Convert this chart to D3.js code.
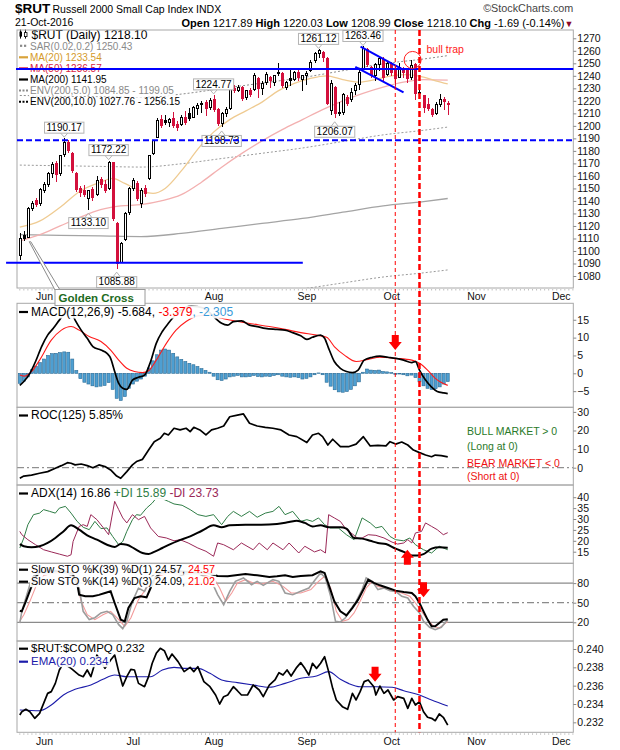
<!DOCTYPE html>
<html><head><meta charset="utf-8">
<script src="https://cdn.jsdelivr.net/npm/d3@7/dist/d3.min.js"></script>
<style>
body{margin:0;background:#fff;}
svg{display:block;font-family:"Liberation Sans",Arial,Helvetica,sans-serif;}
</style></head><body>
<svg id="chart" width="620" height="750"></svg>
<script>
// ================= DATA =================
const holidays = ["2016-05-30","2016-07-04","2016-09-05","2016-11-24"];
// daily candles, 23-May-2016 .. 21-Oct-2016 (trading days)
const opens  = [1096,1112,1111,1134,1140,1138,1148,1153,1162,1170,1162,1177,1187,1178,1162,1150,1148,1142,1149,1145,1157,1153,1150,1171,1122,1091,1109,1131,1150,1154,1138,1150,1158,1178,1191,1205,1204,1203,1206,1201,1201,1207,1210,1207,1214,1217,1219,1215,1221,1213,1202,1210,1214,1230,1228,1231,1223,1228,1229,1238,1230,1235,1239,1235,1242,1242,1231,1238,1237,1243,1237,1240,1244,1252,1258,1259,1254,1212,1231,1211,1211,1223,1221,1228,1233,1246,1261,1247,1240,1249,1253,1241,1250,1245,1239,1246,1244,1239,1249,1227,1224,1217,1213,1210,1217,1221,1217.89];
const highs  = [1114,1116,1135,1140,1142,1150,1155,1163,1171,1172,1177,1190.17,1189,1179,1163,1152,1153,1149,1151,1160,1159,1157,1172.22,1171,1123,1107,1131,1151,1158,1156,1150,1153,1177,1189,1206,1209,1209,1206,1211,1204,1209,1212,1214,1216,1218,1220,1221,1222,1224.77,1214,1211,1215,1231,1233,1233,1232,1229,1230,1242,1239,1236,1243,1240,1241,1250,1243,1236,1246,1244,1246,1241,1244,1253,1259,1261.12,1260,1255,1237,1232,1219,1226,1225,1230,1234,1245,1263.46,1262,1248,1250,1255,1255,1252,1251,1248,1250,1247,1246,1253,1250,1230,1225,1222,1214,1219,1225.5,1223,1220.03];
const lows   = [1093,1108,1110,1132,1135,1136,1146,1151,1158,1155,1160,1175,1178,1162,1147,1143,1143,1133.10,1140,1144,1150,1146,1149,1124,1085.88,1090,1108,1129,1148,1140,1134,1143,1157,1177,1190,1198,1201,1199,1198,1196,1200,1201,1204,1206,1209,1210,1208,1213,1211,1200,1198.73,1207,1213,1226,1227,1220,1221,1223,1228,1222,1225,1233,1230,1232,1240,1230,1229,1232,1236,1236,1228,1233,1243,1250,1254,1251,1217,1209,1206.07,1208,1209,1216,1219,1225,1229,1245,1247,1238,1236,1244,1236,1240,1240,1232,1238,1238,1234,1237,1221,1222,1210,1212,1207,1209,1215,1213,1208.99];
const closes = [1110,1110,1134,1138,1137,1149,1153,1162,1169,1161,1176,1187,1180,1164,1149,1147,1145,1148,1143,1156,1153,1148,1171,1126,1090,1106,1130,1150,1156,1142,1148,1146,1176,1188,1204,1200,1203,1205,1200,1199,1207,1203,1206,1215,1216,1218,1214,1220,1213,1202,1210,1213,1230,1228,1231,1222,1228,1225,1240,1230,1234,1241,1236,1240,1243,1232,1235,1236,1243,1239,1240,1242,1251,1258,1260,1255,1218,1234,1210,1210,1225,1218,1227,1232,1243,1262,1249,1240,1249,1254,1239,1250,1243,1238,1247,1243,1238,1248,1226,1226,1215,1214,1209,1217,1221,1219.79,1218.10];
// price labels (day index of the high / low)
const highLabelDays = [11,22,48,74,85];
const lowLabelDays  = [17,24,50,78];
// overlays: [dayIndex, value]
const ma20  = [[0,1119],[5,1124],[10,1135],[15,1148],[20,1155],[23,1158],[26,1154],[30,1148],[33,1146],[36,1150],[40,1164],[44,1181],[45,1185],[48,1195],[52,1205],[56,1212],[60,1219],[64,1228],[68,1234],[72,1238],[76,1240],[80,1237],[84,1235],[88,1237],[92,1240],[96,1241],[100,1239],[103,1236],[106,1233.54]];
const ma50  = [[0,1108],[5,1113],[10,1120],[15,1127],[20,1133],[25,1136],[30,1137],[35,1140],[40,1145],[45,1155],[50,1167],[55,1178],[60,1188],[65,1197],[70,1205],[75,1213],[80,1220],[85,1226],[90,1231],[95,1235],[100,1237],[106,1236.57]];
const ma200 = [[0,1113],[10,1112.5],[20,1112],[30,1111.5],[40,1114],[50,1118],[60,1122],[70,1126],[80,1131],[90,1136],[100,1139.5],[106,1141.95]];
const priceTicks = d3.range(1080, 1271, 10);
const priceLegend = ["$RUT (Daily) 1218.10","SAR(0.02,0.2) 1250.43","MA(20) 1233.54","MA(50) 1236.57","MA(200) 1141.95","ENV(200,5.0) 1084.85 - 1199.05","ENV(200,10.0) 1027.76 - 1256.15"];

// MACD(12,26,9)
const macdLine = [[0,-3.4],[1,-2.3],[2.5,0],[3.9,3.3],[5.4,7.5],[6.9,10.7],[8.3,12.6],[9.8,14.9],[11.3,17.0],[12.5,17.6],[13.7,14.9],[15.2,12.1],[16.7,9.8],[18.1,7.5],[20.1,6.5],[21.6,5.6],[22.5,4.2],[23.5,0.5],[24.5,-2.8],[25.5,-4.2],[26.5,-4.5],[27.9,-1.9],[29.4,-1.1],[30.9,-0.5],[32.4,3.3],[33.8,8.4],[35.3,11.7],[36.8,14],[38.2,15.9],[39.7,17.5],[42.5,18.8],[45.5,18.3],[47.5,16.5],[48.5,15.4],[50,14],[51.5,13.5],[52.9,14.5],[54.9,14.7],[56.9,13.5],[58.8,13.1],[60.8,12.6],[63.7,12.3],[65.7,12.1],[67.6,11.4],[69.6,10.5],[71.1,9.5],[72.5,10.1],[74.5,10.7],[75.5,9.8],[76.5,7],[77.9,3.3],[79.4,1.4],[80.9,0.5],[82.4,0.2],[83.8,0.9],[85.3,3.7],[87.3,4.5],[89.2,4.8],[91.2,4.5],[93.1,4.2],[95.1,3.7],[97.1,3],[98,3.3],[99,0.9],[100.5,-1.9],[102,-3.9],[103.4,-5.1],[105,-5.5],[106,-5.684]];
const macdSignal = [[0,-0.5],[1,-0.8],[2.9,0.5],[4.9,3.7],[7.8,9.3],[10.3,12.1],[12.7,13.1],[14.7,12.1],[17.2,10.3],[20.1,8.9],[22.5,6.5],[24.5,3.7],[26.5,1.4],[28.4,0.5],[30.4,0.2],[31.9,0.7],[33.8,3.7],[36.3,8.4],[38.7,12.1],[41.2,14.5],[44.1,16.1],[47.1,16.3],[50,15.4],[53.9,14.5],[57.8,13.8],[61.8,13.1],[65.7,12.3],[69.6,11.4],[73.5,10.7],[76,10.1],[77.9,7.5],[80.4,5.1],[83.3,3.3],[86.3,3.9],[89.2,4.5],[93.1,4.2],[97.1,3.7],[99,2.8],[101,0.9],[102.9,-1.4],[106,-3.379]];
const macdHist = [-2.8,-2.2,-1.0,1.0,2.0,3.0,4.0,5.0,5.5,5.6,5.8,6.0,5.9,4.0,0.8,-1.5,-2.5,-3.0,-3.5,-3.8,-3.6,-3.4,-2.6,-4.5,-7.0,-7.6,-6.5,-4.2,-3.0,-2.2,-1.6,-0.8,1.5,3.5,5.2,6.5,6.8,6.5,5.6,4.6,3.9,3.3,2.8,2.4,1.9,1.3,0.8,0.3,-0.8,-1.8,-2.0,-1.6,-1.0,-0.8,-0.6,-1.0,-1.0,-0.9,-0.6,-0.9,-1.0,-0.8,-0.9,-0.6,-0.4,-0.8,-1.0,-1.1,-1.0,-1.2,-1.6,-1.4,-1.0,-0.4,0.1,-0.4,-2.5,-3.6,-4.6,-5.2,-5.3,-5.1,-4.5,-3.5,-2.4,0.3,1.2,0.9,0.8,0.9,0.5,0.4,0.2,-0.3,-0.2,-0.4,-0.7,-0.5,-1.2,-2.4,-3.5,-4.2,-4.5,-4.3,-3.8,-3.0,-2.305];
const macdTicks = [-5,0,5,10,15];

// ROC(125)
const roc = [[0,-5.7],[1,-4.5],[2.9,-4],[4.9,-3],[6.9,-2.1],[8.8,-0.3],[10.3,1.1],[11.8,2.7],[12.7,2.4],[13.7,1.5],[15.2,2],[16.7,1.1],[18.1,0],[19.6,1.5],[21.1,0.6],[22.5,-1.2],[24,-4.5],[25,-5.7],[26.5,-2.1],[27.9,1.5],[28.9,3.3],[30.4,4.5],[31.9,9.5],[33.3,14],[34.8,15.8],[35.8,18.5],[36.8,17.6],[38.2,21.2],[39.7,20.3],[41.2,21.2],[42.2,19.4],[43.1,21.7],[44.6,20.3],[46.1,17.6],[47.5,20.3],[49,21.2],[50.5,22.4],[52,27.4],[53.9,28.3],[55.4,28.9],[56.9,23.9],[58.8,22.4],[60.8,21.7],[62.7,21.2],[64.7,20.3],[66.7,17.6],[68.6,16.7],[71.1,13.5],[72.5,17.6],[74,18.5],[75,16.7],[76.3,12.2],[77.5,15.3],[79.4,11.3],[81.4,11.3],[83.3,12.7],[85.1,16.7],[86.8,11.7],[88.7,12],[90.7,11.7],[91.7,14],[93.1,12.7],[94.6,13.8],[96.1,12.2],[97.5,9.5],[99,8.1],[100.5,6.8],[102,5.9],[102.9,6.8],[104.4,6.5],[106,5.85]];
const rocTicks = [0,10,20,30];

// ADX(14)
const adx = [[0,18.5],[1,17.5],[2.9,17],[4.9,17.5],[6.9,19],[8.8,21.3],[10.8,24.3],[12.7,27.1],[14.7,25.1],[16.7,22.5],[19.1,20.5],[21.6,18.2],[23.5,17.2],[25,18.5],[26.5,18.2],[28.4,16.4],[30.4,14.4],[31.9,13.9],[33.3,14.9],[35.3,16.7],[37.3,18.5],[39.2,20],[42.2,22],[45.1,24.6],[48,27.1],[50,26.2],[52,27.1],[55.9,27.4],[59.8,27.4],[63.7,27.7],[66.7,28.6],[68.6,29.2],[70.6,28.2],[72.5,26.6],[74.5,27.1],[76.5,26.2],[79.4,26.2],[80.9,25.6],[82.8,21.3],[84.8,21],[86.8,20],[88.7,19],[90.7,18.5],[93.1,16.4],[95.1,14.9],[97.1,13.3],[98.5,13.3],[100,13.9],[102,16.4],[103.9,17],[106,16.86]];
const plusDI = [[0,16.7],[1,21.3],[2,27.4],[3.4,32],[4.9,32.7],[5.9,34.3],[7.4,33.5],[8.8,32.7],[9.8,35],[11.3,35.8],[12.7,32.7],[14.2,28.9],[15.7,26.2],[17.2,25.1],[18.6,28.9],[20.1,25.6],[21.6,25.9],[23,22],[24.5,18.2],[25.5,19.7],[26.5,24.3],[27.9,29.7],[28.9,32],[29.9,31.7],[31.4,35],[32.8,37.3],[33.8,39.6],[35.3,39.3],[36.8,38.1],[38.2,36.9],[40.2,36.3],[42.2,34.3],[44.1,32],[46.1,31.2],[48,32],[50,27.4],[51.5,31.2],[52.9,33.5],[54.9,31.2],[56.9,33.5],[58.8,30.8],[60.8,32.7],[62.7,33.5],[64.2,35.8],[65.7,32],[67.6,33.5],[69.6,28.9],[71.1,29.7],[72.5,28.9],[74,30.5],[75.5,27.4],[76.9,25.9],[78.9,25.9],[80.9,22.8],[82.8,20.5],[84.8,30.5],[86.8,28.2],[88.2,25.9],[89.7,26.6],[91.7,22],[93.1,20.5],[95.1,20],[96.6,21.3],[98,18.2],[100,15.9],[102,14.4],[103.9,17.5],[106,15.89]];
const minusDI = [[0,24.3],[0.5,22.8],[2,20.5],[3.9,18.2],[5.9,15.9],[7.8,14.9],[9.8,13.9],[11.8,12.9],[12.7,13.6],[13.2,19.7],[14.7,26.6],[15.7,27.4],[16.7,26.6],[17.6,32],[19.1,29.7],[20.6,26.2],[22,22.8],[23.5,38.1],[24.5,34.3],[25.5,30.5],[26.5,28.2],[27.9,32],[29.4,29.7],[30.9,31.2],[32.4,25.9],[34.3,22],[36.3,21.3],[38.2,20],[39.7,20.5],[41.7,19],[44.1,16.7],[46.1,15.2],[48,12.9],[49,19],[50.5,18.2],[52.9,15.9],[54.9,19],[57.8,15.9],[59.3,19],[61.3,15.9],[62.7,19],[65.2,15.9],[66.7,19],[69.1,14.4],[70.6,17.5],[73,14.9],[74.5,15.9],[75.7,14.4],[76.5,32],[77.9,30.5],[79.4,28.9],[80.9,25.1],[82.4,23.1],[83.8,21],[84.8,21.3],[86.3,22.8],[88.2,22.5],[90.2,21.3],[92.2,19.4],[93.6,18.5],[95.1,19],[96.1,20.5],[97.1,19],[98,23.6],[99.5,24.3],[100.5,28.2],[102,26.6],[103.4,25.1],[104.9,22.8],[106,23.73]];
const adxTicks = [15,20,25,30,35,40];

// Slow Stochastics
const stoK39 = [[0,37.8],[0.5,36.8],[1.5,52.1],[2.9,75],[4,90],[5,97],[8,99],[11,98],[13,95],[14.2,80],[14.7,62.3],[16.2,59.8],[18.1,59.8],[19.6,62],[21.1,64.9],[22.5,67.4],[23.5,49.6],[25,24.1],[26,21.5],[26.9,42],[28.4,57.2],[29.9,59.8],[31.4,58.2],[32.4,72.5],[33.5,88],[35,96],[38,99],[42,97],[46,96],[49,91],[51.5,90.4],[55.9,94],[58.8,91.9],[61.8,89.4],[63.7,90.4],[65.7,92],[67.6,89.4],[69.6,91],[72.5,92],[74.5,98],[75.5,95.5],[76.5,77.6],[77.9,52.1],[79.4,36.8],[80.9,30.7],[82.4,42],[83.8,54.7],[85.3,72.5],[86.3,85.3],[87.7,80.2],[89.2,76.6],[91.2,72.5],[93.1,68.5],[95.1,66.4],[97.1,64.9],[98,59.8],[99,49.6],[100,36.8],[101,24.1],[102,13.9],[102.9,13.9],[103.9,19],[104.9,24.1],[106,24.57]];
const stoK14 = [[0,18.9],[0.5,36.8],[2,67.4],[3,88],[4.5,97],[7,95],[10,98],[13,92],[14.7,72.5],[15.7,36.8],[17.2,24.1],[18.6,27],[20.1,34.3],[21.6,36.8],[23,31.7],[24.5,16.4],[25.5,10.3],[26.5,21.5],[27.9,52.1],[29.4,72.5],[30.9,67.4],[32.4,87.8],[33.5,95],[36,98],[40,93],[44,96],[47.5,82.7],[49,62.3],[50.5,47],[52,67.4],[53.4,82.7],[55.4,87.8],[57.4,77.6],[58.8,82.7],[60.3,76.6],[62.7,85.3],[64.2,82.7],[65.7,64.9],[67.6,62.3],[69.6,67.4],[71.6,72.5],[73.5,87.8],[74.5,95.5],[75.7,87.8],[77,59.8],[78.2,21.5],[79.4,20.5],[80.6,26.6],[81.9,39.4],[83.3,52.1],[84.8,70],[85.8,87.8],[87.3,82.7],[88.7,70],[90.2,72.5],[91.7,68.5],[93.1,67.4],[94.6,59.8],[96.1,57.2],[97.5,44.5],[99,34.3],[100,21.5],[101.5,12.3],[102.9,8.8],[104.4,12.3],[106,24.09]];
const stoD3 = [[0,21.5],[1,31.7],[2.5,52.1],[4,75],[6,92],[9,96],[12,95],[14,85],[15.2,52.1],[16.7,31.7],[18.6,24.1],[20.6,31.7],[22.5,36.8],[24.5,24.1],[26,13.9],[27.5,26.6],[29.4,54.7],[31.4,72.5],[32.8,82.7],[34,90],[37,96],[41,95],[45,93],[48,87.8],[49.5,72.5],[51,52.1],[52.5,64.9],[53.9,80.2],[55.9,85.3],[57.8,80.2],[59.8,78.7],[62.7,82.7],[65.2,75],[67.2,64.9],[69.6,64.9],[72.1,70],[74,82.7],[75.5,90.4],[77,72.5],[78.4,36.8],[79.9,21.5],[81.4,24.1],[82.8,34.3],[84.3,52.1],[85.8,72.5],[87.3,82.7],[88.7,75],[90.7,72.5],[92.6,67.4],[94.6,64.9],[96.6,59.8],[98,49.6],[99.5,36.8],[101,24.1],[102.5,13.9],[103.9,11.3],[106,21.02]];
const stoTicks = [20,50,80];

// $RUT:$COMPQ ratio
const ratio = [[0,0.2328],[0.5,0.23316],[1.5,0.23342],[2.5,0.23316],[3.7,0.23244],[4.9,0.23298],[5.9,0.23407],[6.9,0.23516],[7.8,0.23535],[8.8,0.23625],[9.8,0.23771],[10.8,0.23844],[12.7,0.23789],[14.7,0.23716],[15.7,0.23698],[16.7,0.23771],[17.6,0.23698],[18.6,0.23844],[19.1,0.23935],[21.1,0.23789],[22.5,0.2388],[23.5,0.23935],[24.5,0.23753],[25.5,0.23596],[26.5,0.23698],[27.5,0.23778],[28.4,0.23771],[29.4,0.23625],[30.9,0.23589],[31.9,0.23698],[32.8,0.23844],[33.8,0.23953],[34.8,0.24007],[35.8,0.23982],[36.8,0.2388],[37.7,0.23945],[39.2,0.23862],[40.7,0.23753],[42.2,0.238],[43.1,0.23753],[44.1,0.23807],[45.6,0.23644],[47.1,0.23589],[48.5,0.23498],[49.5,0.234],[50.5,0.2348],[51.5,0.23498],[52.9,0.23589],[53.9,0.23545],[54.9,0.23498],[56.4,0.23498],[57.8,0.23607],[59.3,0.23553],[60.3,0.2348],[61.8,0.23607],[63.2,0.23662],[64.2,0.23742],[65.2,0.23716],[66.2,0.23771],[67.2,0.23705],[68.6,0.238],[69.6,0.23851],[70.6,0.23789],[71.6,0.23716],[72.5,0.23844],[73.5,0.23789],[74.5,0.23844],[75.5,0.23916],[76.5,0.23753],[77.5,0.23571],[78.4,0.23444],[79.9,0.23371],[81.2,0.23342],[82.4,0.23516],[83.3,0.23444],[84.3,0.23535],[85.3,0.23644],[86.3,0.23662],[87.7,0.23589],[88.2,0.23498],[89.2,0.23596],[90.2,0.23516],[91.2,0.23553],[92.6,0.23444],[93.6,0.2348],[95.1,0.23462],[96.1,0.23353],[97.1,0.23462],[98,0.23389],[99,0.23425],[100,0.23316],[101,0.23255],[102,0.23244],[102.9,0.23218],[103.9,0.23291],[104.9,0.23255],[106,0.2317]];
const ratioEma = [[0,0.23335],[4.9,0.23327],[7.8,0.23389],[10.8,0.23498],[13.7,0.2356],[17.6,0.23607],[20.6,0.23669],[23.5,0.23716],[26.5,0.23698],[29.4,0.23698],[32.4,0.23698],[35.3,0.23771],[38.2,0.238],[41.2,0.23789],[44.1,0.23789],[47.1,0.23735],[50,0.23662],[53.9,0.23633],[57.8,0.23607],[61.8,0.23582],[65.7,0.23625],[69.6,0.2368],[73.5,0.23705],[76.5,0.23753],[79.4,0.23669],[81.4,0.23625],[84.3,0.23589],[88.2,0.23589],[92.2,0.23582],[95.1,0.23545],[99,0.23498],[102,0.23444],[106,0.23378]];
const ratioTicks = [0.232,0.234,0.236,0.238,0.240];

// ================= LAYOUT =================
const svg = d3.select("#chart");
const FONT = '"Liberation Sans",Arial,Helvetica,sans-serif';
const L = 17, R = 573.3;
const fmtDay = d3.timeFormat("%Y-%m-%d");
const days = d3.timeDay.range(new Date(2016,4,23), new Date(2016,11,7))
  .filter(d => d.getDay() % 6 !== 0 && !holidays.includes(fmtDay(d)));
const x = d3.scaleLinear().domain([-0.694, 137.1]).range([L, R]);

const P = {price:[30,288], macd:[303.3,407.3], roc:[407.3,485], adx:[485,563.3], sto:[563.3,641], cmp:[641,732.3]};
const yP = d3.scaleLinear().domain([1070.41,1276.63]).range([288,30]);
const yM = d3.scaleLinear().domain([-9.52,19.61]).range([407.3,303.3]);
const yR = d3.scaleLinear().domain([-9.3,32.47]).range([485,407.3]);
const yA = d3.scaleLinear().domain([9.68,45.6]).range([563.3,485]);
const yS = d3.scaleLinear().domain([-8.6,110.3]).range([641,563.3]);
const yC = d3.scaleLinear().domain([0.230913,0.240873]).range([732.3,641]);

const defs = svg.append("defs");
Object.entries(P).forEach(([k,[t,b]]) => {
  defs.append("clipPath").attr("id","clip-"+k).append("rect")
    .attr("x",L).attr("y",t).attr("width",R-L).attr("height",b-t);
});
function panel(k){ return svg.append("g").attr("clip-path",`url(#clip-${k})`); }
function frame(k){
  const [t,b]=P[k];
  svg.append("rect").attr("x",L).attr("y",t).attr("width",R-L).attr("height",b-t)
    .attr("fill","none").attr("stroke","#a8a8a8").attr("stroke-width",1);
}
function rightAxis(y, vals, fmt){
  const g = svg.append("g").attr("transform",`translate(${R},0)`)
    .call(d3.axisRight(y).tickValues(vals).tickSize(3).tickPadding(1).tickFormat(fmt));
  g.attr("font-family",FONT).attr("font-size",10.5);
  g.select(".domain").remove();
  g.selectAll(".tick line").attr("stroke","#888");
  g.selectAll(".tick text").attr("fill","#111");
}
const lineGen = (y, curve) => d3.line().x(d=>x(d[0])).y(d=>y(d[1])).curve(curve || d3.curveLinear);

function legend(g, xPos, yBase, parts, size, bg=true){
  const t = g.append("text").attr("x",xPos).attr("y",yBase).attr("font-size",size).attr("font-family",FONT);
  parts.forEach(p => t.append("tspan").text(p[0]).attr("fill",p[1]).attr("font-weight",p[2]?"bold":null));
  if(bg){
    const bb = t.node().getBBox();
    g.insert("rect", () => t.node()).attr("x",bb.x-1).attr("y",bb.y+1).attr("width",bb.width+2).attr("height",bb.height-1)
      .attr("fill","#fff").attr("opacity",0.92);
  }
  return t;
}
function marker(g, yBase, color, dash, w){
  g.append("line").attr("x1",19).attr("x2",28).attr("y1",yBase-3.5).attr("y2",yBase-3.5)
    .attr("stroke",color).attr("stroke-width",w||2.2).attr("stroke-dasharray",dash||null);
}

svg.append("rect").attr("width",620).attr("height",750).attr("fill","#fff");

// ---------- PRICE PANEL ----------
{
  const g = panel("price");
  const envs = [[0.05,"#9a9a9a"],[-0.05,"#9a9a9a"],[0.10,"#8c8c8c"],[-0.10,"#8c8c8c"]];
  envs.forEach(([k,c]) => g.append("path").datum(ma200.map(d=>[d[0], d[1]*(1+k)]))
    .attr("d", lineGen(yP, d3.curveMonotoneX)).attr("fill","none").attr("stroke",c)
    .attr("stroke-width",1).attr("stroke-dasharray","2,2"));
  g.append("path").datum(ma200).attr("d",lineGen(yP,d3.curveMonotoneX)).attr("fill","none").attr("stroke","#a4a4a4").attr("stroke-width",1.3);
  g.append("path").datum(ma50).attr("d",lineGen(yP,d3.curveMonotoneX)).attr("fill","none").attr("stroke","#f3b0b0").attr("stroke-width",1.3);
  g.append("path").datum(ma20).attr("d",lineGen(yP,d3.curveMonotoneX)).attr("fill","none").attr("stroke","#efcb92").attr("stroke-width",1.3);

  const cd = d3.range(opens.length).map(i => ({i,o:opens[i],h:highs[i],l:lows[i],c:closes[i],p:i?closes[i-1]:opens[i]}));
  const col = d => d.c >= d.p ? "#000" : "#d3103c";
  const cg = g.append("g").attr("shape-rendering","crispEdges");
  cg.selectAll("line").data(cd).join("line")
    .attr("x1",d=>Math.round(x(d.i))+0.5).attr("x2",d=>Math.round(x(d.i))+0.5)
    .attr("y1",d=>yP(d.h)).attr("y2",d=>yP(d.l)).attr("stroke",col).attr("stroke-width",1);
  cg.selectAll("rect").data(cd).join("rect")
    .attr("x",d=>Math.round(x(d.i))-0.5).attr("width",2)
    .attr("y",d=>Math.min(yP(d.o),yP(d.c))).attr("height",d=>Math.max(1,Math.abs(yP(d.o)-yP(d.c))))
    .attr("fill",d=> d.c > d.o ? "#fff" : col(d)).attr("stroke",col).attr("stroke-width",1);

  // legend
  const lg = svg.append("g");
  const rows = [38.6,49.7,60.8,71.9,83,94.1,105.2];
  legend(lg,31.5,rows[0],[[priceLegend[0],"#000"]],12);
  lg.append("g").call(s=>{
    s.append("line").attr("x1",20.5).attr("x2",20.5).attr("y1",rows[0]-9).attr("y2",rows[0]).attr("stroke","#000");
    s.append("rect").attr("x",19.5).attr("y",rows[0]-7).attr("width",2.5).attr("height",5).attr("fill","#000");
    s.append("line").attr("x1",25.5).attr("x2",25.5).attr("y1",rows[0]-9).attr("y2",rows[0]).attr("stroke","#000");
    s.append("rect").attr("x",24.5).attr("y",rows[0]-6).attr("width",2.5).attr("height",4).attr("fill","#fff").attr("stroke","#000").attr("stroke-width",0.8);
  });
  [20,24].forEach(xx => lg.append("rect").attr("x",xx).attr("y",rows[1]-5).attr("width",2.2).attr("height",2.2).attr("fill","#8a8a8a"));
  legend(lg,30,rows[1],[[priceLegend[1],"#8a8a8a"]],10);
  marker(lg,rows[2],"#d9a33a"); legend(lg,30,rows[2],[[priceLegend[2],"#d49a2a"]],10);
  marker(lg,rows[3],"#d81b43"); legend(lg,30,rows[3],[[priceLegend[3],"#d81b43"]],10);
  marker(lg,rows[4],"#000"); legend(lg,30,rows[4],[[priceLegend[4],"#000"]],10);
  marker(lg,rows[5],"#8a8a8a","2,1.5",2); legend(lg,30,rows[5],[[priceLegend[5],"#8a8a8a"]],10);
  marker(lg,rows[6],"#000","2,1.5",2); legend(lg,30,rows[6],[[priceLegend[6],"#000"]],10);

  // price label boxes
  const boxG = svg.append("g").attr("font-family",FONT).attr("font-size",10);
  function priceBox(i, val, isHigh){
    const cx = x(i);
    const t = boxG.append("text").text(val.toFixed(2)).attr("text-anchor","middle").attr("fill","#000");
    const w = t.node().getComputedTextLength() + 4, h = 11;
    const top = isHigh ? yP(val) - 5 - h : yP(val) + 8;
    t.attr("x",cx).attr("y",top+8.8);
    boxG.insert("rect",()=>t.node()).attr("x",cx-w/2).attr("y",top).attr("width",w).attr("height",h)
      .attr("fill","#fff").attr("stroke","#b4b4b4");
    const by = isHigh ? top+h : top;
    const ty = isHigh ? by+4 : by-4.5;
    boxG.append("path").attr("d",`M${cx-3.5},${by} L${cx},${ty} L${cx+3.5},${by}`)
      .attr("fill","none").attr("stroke","#b4b4b4");
  }
  highLabelDays.forEach(i => priceBox(i, highs[i], true));
  lowLabelDays.forEach(i => priceBox(i, lows[i], false));
}
frame("price");
rightAxis(yP, priceTicks, d3.format("d"));

// ---------- MACD PANEL ----------
{
  const g = panel("macd");
  g.append("g").selectAll("rect").data(macdHist).join("rect")
    .attr("x",(d,i)=>x(i)-1.5).attr("width",3)
    .attr("y",d=>Math.min(yM(0),yM(d))).attr("height",d=>Math.abs(yM(d)-yM(0)))
    .attr("fill","#4d9fd2").attr("stroke","#2a6a94").attr("stroke-width",0.6);
  g.append("path").datum(macdSignal).attr("d",lineGen(yM,d3.curveMonotoneX)).attr("fill","none").attr("stroke","#ff1a1a").attr("stroke-width",1.1);
  g.append("path").datum(macdLine).attr("d",lineGen(yM,d3.curveMonotoneX)).attr("fill","none").attr("stroke","#000").attr("stroke-width",1.7);
  const lg = svg.append("g");
  marker(lg,315.5,"#000");
  legend(lg,31,315.5,[["MACD(12,26,9) -5.684","#000"],[", ","#000"],["-3.379","#ff0000"],[", ","#3a9ad9"],["-2.305","#3a9ad9"]],12);
}
frame("macd");
rightAxis(yM, macdTicks, d3.format("d"));

// ---------- ROC PANEL ----------
{
  const g = panel("roc");
  g.append("line").attr("x1",L).attr("x2",R).attr("y1",yR(0)).attr("y2",yR(0))
    .attr("stroke","#777").attr("stroke-dasharray","7,3,2,3");
  g.append("path").datum(roc).attr("d",lineGen(yR)).attr("fill","none").attr("stroke","#000").attr("stroke-width",1.7).attr("stroke-linejoin","round");
  const lg = svg.append("g");
  marker(lg,419,"#000");
  legend(lg,31,419,[["ROC(125) 5.85%","#000"]],12);
  const tg = svg.append("g").attr("font-family",FONT).attr("font-size",10.5);
  [["BULL MARKET > 0",434.5,"#2a7a2a"],["(Long at 0)",449.5,"#2a7a2a"],["BEAR MARKET < 0",466.5,"#ee1111"],["(Short at 0)",480,"#ee1111"]]
    .forEach(([s,yy,c]) => tg.append("text").attr("x",467).attr("y",yy).attr("fill",c).text(s));
}
frame("roc");
rightAxis(yR, rocTicks, d3.format("d"));

// ---------- ADX PANEL ----------
{
  const g = panel("adx");
  g.append("path").datum(plusDI).attr("d",lineGen(yA)).attr("fill","none").attr("stroke","#2f7d46").attr("stroke-width",1);
  g.append("path").datum(minusDI).attr("d",lineGen(yA)).attr("fill","none").attr("stroke","#9a2857").attr("stroke-width",1);
  g.append("path").datum(adx).attr("d",lineGen(yA,d3.curveMonotoneX)).attr("fill","none").attr("stroke","#000").attr("stroke-width",2);
  const lg = svg.append("g");
  marker(lg,497,"#000");
  legend(lg,31,497,[["ADX(14) 16.86 ","#000"],["+DI 15.89 ","#2f7d46"],["-DI 23.73","#9a2857"]],12);
}
frame("adx");
rightAxis(yA, adxTicks, d3.format("d"));

// ---------- STO PANEL ----------
{
  const g = panel("sto");
  [80,20].forEach(v => g.append("line").attr("x1",L).attr("x2",R).attr("y1",yS(v)).attr("y2",yS(v)).attr("stroke","#6e6e6e").attr("stroke-width",1));
  g.append("line").attr("x1",L).attr("x2",R).attr("y1",yS(50)).attr("y2",yS(50)).attr("stroke","#6e6e6e").attr("stroke-dasharray","7,3,2,3");
  g.append("path").datum(stoD3).attr("d",lineGen(yS)).attr("fill","none").attr("stroke","#f39a9a").attr("stroke-width",1.1);
  g.append("path").datum(stoK14).attr("d",lineGen(yS)).attr("fill","none").attr("stroke","#9c9c9c").attr("stroke-width",1.6);
  g.append("path").datum(stoK39).attr("d",lineGen(yS)).attr("fill","none").attr("stroke","#000").attr("stroke-width",2);
  const lg = svg.append("g");
  marker(lg,573.2,"#000");
  legend(lg,31,573.2,[["Slow STO %K(39) %D(1) 24.57, ","#000"],["24.57","#ff0000"]],10.8);
  marker(lg,585.2,"#000");
  legend(lg,31,585.2,[["Slow STO %K(14) %D(3) 24.09, ","#000"],["21.02","#ff0000"]],10.8);
}
frame("sto");
rightAxis(yS, stoTicks, d3.format("d"));

// ---------- RATIO PANEL ----------
{
  const g = panel("cmp");
  g.append("path").datum(ratioEma).attr("d",lineGen(yC,d3.curveMonotoneX)).attr("fill","none").attr("stroke","#1c1caa").attr("stroke-width",1.1);
  g.append("path").datum(ratio).attr("d",lineGen(yC)).attr("fill","none").attr("stroke","#000").attr("stroke-width",1.7).attr("stroke-linejoin","round");
  const lg = svg.append("g");
  marker(lg,652.2,"#000");
  legend(lg,31,652.2,[["$RUT:$COMPQ 0.232","#000"]],11.5);
  marker(lg,665.2,"#1c1caa");
  legend(lg,31,665.2,[["EMA(20) 0.234","#1c1caa"]],11.5);
}
frame("cmp");
rightAxis(yC, ratioTicks, d3.format(".3f"));

// ---------- MONTH AXES ----------
const monthStarts = d3.range(1, days.length).filter(i => days[i].getMonth() !== days[i-1].getMonth());
const monthFmt = d3.timeFormat("%b");
const calloutBox = [55, 145];   // x-range covered by the "Golden Cross" callout under the price panel
[[P.price[1], monthStarts.filter(i => x(i) < calloutBox[0]-8 || x(i) > calloutBox[1]+8)], [P.cmp[1], monthStarts]].forEach(([yy, ticks]) => {
  const g = svg.append("g").attr("transform",`translate(0,${yy})`)
    .call(d3.axisBottom(x).tickValues(ticks).tickSize(0).tickPadding(5).tickFormat(i => monthFmt(days[i])));
  g.attr("font-family",FONT).attr("font-size",10.5);
  g.select(".domain").remove();
  g.selectAll(".tick text").attr("fill","#111");
  svg.append("g").selectAll("line").data(d3.range(days.length)).join("line")
    .attr("x1",i=>x(i)).attr("x2",i=>x(i)).attr("y1",yy+1).attr("y2",yy+2.5)
    .attr("stroke","#b0b0b0").attr("stroke-width",0.8);
});

// ---------- ANNOTATIONS ----------
const blue = "#0000ff";
const ann = svg.append("g");
ann.append("line").attr("x1",16).attr("x2",R).attr("y1",yP(1245.5)).attr("y2",yP(1245.5)).attr("stroke",blue).attr("stroke-width",2);
ann.append("line").attr("x1",L).attr("x2",R).attr("y1",yP(1188.5)).attr("y2",yP(1188.5)).attr("stroke",blue).attr("stroke-width",2).attr("stroke-dasharray","6,3");
ann.append("line").attr("x1",x(-3.4)).attr("x2",x(70.1)).attr("y1",yP(1090.6)).attr("y2",yP(1090.6)).attr("stroke",blue).attr("stroke-width",2);
const trendLines = [[[84.4,1263.3],[95.05,1244.7]],[[83.1,1247.2],[95.05,1226.8]]];
trendLines.forEach(([a,b]) => ann.append("line").attr("x1",x(a[0])).attr("y1",yP(a[1])).attr("x2",x(b[0])).attr("y2",yP(b[1])).attr("stroke",blue).attr("stroke-width",2));
ann.append("circle").attr("cx",x(97.3)).attr("cy",yP(1252.7)).attr("r",8.5).attr("fill","none").attr("stroke","#ff2020").attr("stroke-width",1);
ann.append("text").attr("x",426.5).attr("y",52.5).attr("font-family",FONT).attr("font-size",10.5).attr("fill","#ff1a1a").text("bull trap");

// red vertical dashed lines
ann.append("line").attr("x1",x(93)).attr("x2",x(93)).attr("y1",30).attr("y2",P.cmp[1]).attr("stroke","#ff0000").attr("stroke-width",1).attr("stroke-dasharray","4,3");
ann.append("line").attr("x1",x(99)).attr("x2",x(99)).attr("y1",30).attr("y2",P.cmp[1]).attr("stroke","#ff0000").attr("stroke-width",2.5).attr("stroke-dasharray","6,3");

// red arrows
function arrow(cx, tip, dir){
  const hw=6.5, sw=3.5, hh=8, tot=15, s = dir; // s=1 down, -1 up
  const b = tip - s*tot, m = tip - s*hh;
  ann.append("path").attr("d",`M${cx-sw},${b} L${cx+sw},${b} L${cx+sw},${m} L${cx+hw},${m} L${cx},${tip} L${cx-hw},${m} L${cx-sw},${m} Z`)
    .attr("fill","#ff0000");
}
arrow(x(93), yM(6.5), 1);
arrow(x(96), yA(15.9), -1);
arrow(x(100), yS(58.3), 1);
arrow(x(88), yC(0.23643), 1);

// Golden Cross callout
const tipX = x(2.35), tipY = yP(1107.4);
ann.append("path").attr("d",`M${tipX},${tipY} L${tipX+1.5},${tipY} L60,290 L55,290 Z`).attr("fill","#fff").attr("stroke","#8a8a8a").attr("stroke-width",1);
ann.append("rect").attr("x",calloutBox[0]).attr("y",289.5).attr("width",calloutBox[1]-calloutBox[0]).attr("height",16).attr("fill","#fff").attr("stroke","#9a9a9a");
ann.append("text").attr("x",58.5).attr("y",301.8).attr("font-family",FONT).attr("font-size",11.5).attr("font-weight","bold").attr("fill","#1d6b1d").text("Golden Cross");

// ---------- HEADER ----------
const hd = svg.append("g").attr("font-family",FONT);
hd.append("text").attr("x",15).attr("y",12.5).attr("font-size",13.5).attr("font-weight","bold").attr("fill","#000").text("$RUT");
hd.append("text").attr("x",52.5).attr("y",12.5).attr("font-size",10.5).attr("fill","#000").text("Russell 2000 Small Cap Index INDX");
hd.append("text").attr("x",R).attr("y",12).attr("font-size",10.8).attr("text-anchor","end").attr("fill","#444").text("\u00A9StockCharts.com");
hd.append("text").attr("x",15).attr("y",26.3).attr("font-size",10.5).attr("fill","#000").text("21-Oct-2016");
const last = opens.length-1;
const chg = closes[last]-closes[last-1];
const ohlc = hd.append("text").attr("x",R).attr("y",26.5).attr("font-size",11).attr("text-anchor","end").attr("fill","#000");
[["Open",1],[" "+opens[last].toFixed(2)+" ",0],["High",1],[" "+highs[last].toFixed(2)+" ",0],["Low",1],[" "+lows[last].toFixed(2)+" ",0],
 ["Close",1],[" "+closes[last].toFixed(2)+" ",0],["Chg",1],[" "+chg.toFixed(2)+" ("+(chg/closes[last-1]*100).toFixed(2)+"%)",0]]
 .forEach(([s,b]) => ohlc.append("tspan").attr("font-weight",b?"bold":null).text(s));
ohlc.append("tspan").attr("fill","#8b0a2a").attr("font-size",9).text("\u25BC");
</script></body></html>
